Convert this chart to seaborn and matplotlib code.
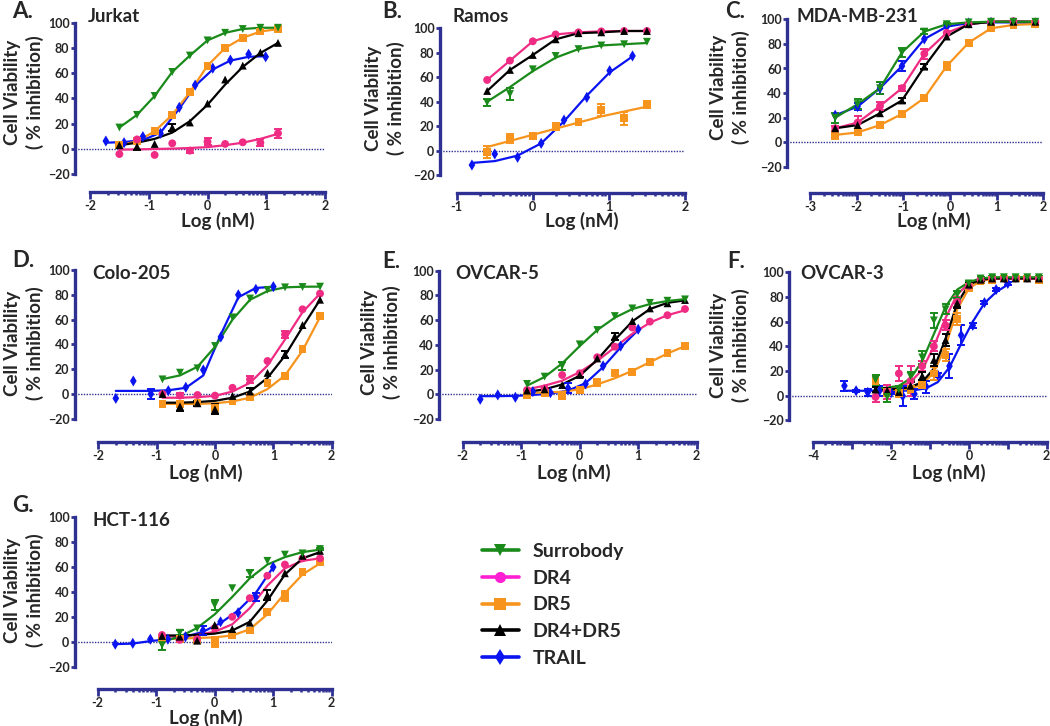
import numpy as np
import pandas as pd
import matplotlib
matplotlib.use("Agg")
import matplotlib.pyplot as plt
from matplotlib.lines import Line2D
import seaborn as sns

sns.set_style("ticks")
plt.rcParams["font.family"] = ["Lato", "DejaVu Sans"]
plt.rcParams["font.weight"] = "bold"

# ---- data (log nM, % inhibition) ----
series_names = ["Surrobody", "DR4", "DR5", "DR4+DR5", "TRAIL"]

# A. Jurkat
jurkat_x = [-1.5, -1.2, -0.9, -0.6, -0.3, 0.0, 0.3, 0.6, 0.9, 1.2]
jurkat_trail_x = [-1.73, -1.42, -1.1, -0.8, -0.48, -0.21, 0.09, 0.39, 0.7, 0.99]
jurkat_surrobody = [17, 27, 42, 61, 74, 86, 92, 95, 96, 96]
jurkat_dr4 = [-4, 7.6, -4.7, 4.5, -1.3, 5.8, 4, 5.3, 5, 12.4]
jurkat_dr4_err = [0, 0, 0, 0, 1.5, 3, 0, 0, 3, 3.5]
jurkat_dr4_fit = [-0.5, -0.3, 0, 0.3, 0.8, 1.5, 3, 5, 8, 12]
jurkat_dr5 = [3, 6, 14, 27, 45, 66, 80, 88, 93, 95]
jurkat_dr4dr5 = [3, 2, 4, 17, 21, 36, 55, 66, 76.5, 84]
jurkat_dr4dr5_err = [0, 2.5, 0, 3, 0, 0, 0, 0, 0, 0]
jurkat_dr4dr5_fit = [3, 5, 8, 13, 22, 35, 51, 65, 76, 84]
jurkat_trail = [6.3, 5, 9.8, 12.4, 33, 50.6, 64, 70.4, 75, 73]
jurkat_trail_fit = [5, 5.5, 7, 13, 32, 50, 63, 70, 73, 73.5]

# B. Ramos
ramos_x = [-0.6, -0.3, 0.0, 0.3, 0.6, 0.9, 1.2, 1.5]
ramos_trail_x = [-0.8, -0.5, -0.2, 0.11, 0.41, 0.71, 1.01, 1.31]
ramos_surrobody = [39.5, 46.3, 66.5, 77.4, 83, 86, 87, 89]
ramos_surrobody_err = [3, 5, 0, 0, 0, 0, 0, 0]
ramos_surrobody_fit = [40, 52, 65, 76, 83, 86, 87, 88]
ramos_dr4 = [57.8, 73.6, 89.4, 95, 96.7, 97.5, 97.8, 97.8]
ramos_dr5 = [-1, 10, 12, 19.6, 23.7, 33, 26.4, 38]
ramos_dr5_err = [5, 4, 0, 3, 0, 5, 5, 3]
ramos_dr5_fit = [3, 8, 13, 18, 23, 28, 32, 36]
ramos_dr4dr5 = [48.8, 66, 78.2, 91, 96, 96.7, 97.8, 97.8]
ramos_trail = [-11.7, -2.7, -5.4, 6, 25, 43.6, 65.4, 77.4]
ramos_trail_fit = [-10, -8.5, -4, 6, 24, 45, 64, 77]

# C. MDA-MB-231
mda_x = [-2.46, -1.98, -1.5, -1.03, -0.55, -0.07, 0.4, 0.88, 1.36, 1.83]
mda_surrobody = [20, 31, 44, 73, 90, 96, 97.5, 98, 98, 98]
mda_surrobody_err = [4, 4, 5, 4, 2, 1, 0, 0, 0, 0]
mda_dr4 = [11.4, 16, 29.5, 44, 72, 89, 96, 98, 98.5, 98]
mda_dr4_err = [2, 5, 3, 2, 4, 0, 0, 0, 0, 0]
mda_dr5 = [6, 8, 14, 23, 36, 62, 81, 92.7, 95.4, 96.2]
mda_dr5_err = [3, 2, 0, 0, 0, 3, 0, 0, 0, 0]
mda_dr4dr5 = [11.4, 14, 23.6, 34, 61.5, 86, 96, 98, 98, 98]
mda_dr4dr5_err = [0, 0, 0, 2, 2, 0, 0, 0, 0, 0]
mda_trail = [22, 29, 44, 62, 84, 94, 97, 97.5, 97.5, 97]
mda_trail_err = [0, 3, 5, 4, 0, 0, 0, 0, 0, 0]

# D. Colo-205
colo_x = [-0.9, -0.6, -0.3, 0.0, 0.3, 0.6, 0.9, 1.2, 1.5, 1.8]
colo_trail_x = [-1.7, -1.4, -1.1, -0.8, -0.5, -0.2, 0.1, 0.4, 0.7, 1.0]
colo_surrobody = [11.8, 17.2, 20.7, 38.7, 61.8, 77, 84, 86, 86.3, 86.6]
colo_surrobody_fit = [12, 15, 22, 38, 60, 76, 83, 86, 86.5, 86.6]
colo_dr4 = [0, -1.3, -0.8, -1.3, 5, 11.8, 26.6, 48, 68.3, 81]
colo_dr4_err = [0, 2, 0, 0, 0, 3, 0, 3, 0, 0]
colo_dr4_fit = [-3, -3, -2.5, -1.5, 2, 9, 23, 44, 66, 81]
colo_dr5 = [-8, -8, -7, -11, -6, -2.7, 9, 14.5, 36, 63]
colo_dr5_err = [0, 0, 0, 3, 0, 0, 0, 0, 0, 0]
colo_dr5_fit = [-8, -8, -8, -7.5, -6, -3, 4, 15, 35, 62]
colo_dr4dr5 = [0, -10, -7.5, -12.4, -1.6, 2, 17, 32, 55.6, 76]
colo_dr4dr5_err = [0, 4, 2, 4, 0, 3, 0, 3, 0, 0]
colo_dr4dr5_fit = [-7, -7, -6.5, -5.5, -3, 2, 13, 31, 54, 76]
colo_trail = [-3.5, 10.5, 0, 2.7, 5.4, 19.4, 46, 80, 84.4, 86.6]
colo_trail_err = [0, 0, 4, 0, 0, 0, 0, 0, 0, 0]
colo_trail_fit = [2.5, 2.5, 2.5, 3, 5, 15, 48, 78, 85.5, 86.5]

# E. OVCAR-5
ov5_x = [-0.9, -0.6, -0.3, 0.0, 0.3, 0.6, 0.9, 1.2, 1.5, 1.8]
ov5_trail_x = [-1.7, -1.4, -1.1, -0.8, -0.5, -0.2, 0.1, 0.4, 0.7, 1.0]
ov5_surrobody = [8.4, 14.3, 23, 40.4, 52, 63.3, 69.5, 74, 75.7, 76.8]
ov5_surrobody_err = [0, 0, 3, 0, 0, 0, 0, 0, 0, 0]
ov5_surrobody_fit = [7, 14, 25, 39, 52, 62, 69, 73, 75.5, 77]
ov5_dr4 = [3.5, 4.8, 15.6, 17, 30, 38.5, 54, 58.8, 64, 69]
ov5_dr4_fit = [4, 7, 11, 18, 27, 38, 49, 58, 64, 68]
ov5_dr5 = [-0.5, 1, -1.3, 3.5, 9.4, 17, 17.8, 26.4, 33.7, 39]
ov5_dr5_err = [0, 0, 0, 0, 3, 0, 0, 0, 0, 0]
ov5_dr5_fit = [1, 1.5, 2, 4, 8, 13, 19, 26, 33, 39]
ov5_dr4dr5 = [3, 4, 7.5, 15.6, 29, 47, 59.3, 69.5, 73.6, 76.3]
ov5_dr4dr5_err = [0, 0, 0, 2, 0, 3, 0, 0, 0, 0]
ov5_dr4dr5_fit = [2, 4, 8, 15, 28, 44, 59, 69, 74, 76]
ov5_trail = [-4, -0.5, -2.4, 2.2, 1.3, 4.9, 8.4, 23, 39, 52.6]
ov5_trail_err = [0, 0, 0, 0, 0, 4, 0, 0, 0, 0]
ov5_trail_fit = [-1.5, -1.5, -1.3, -0.5, 0.5, 3, 9, 22, 38, 52]

# F. OVCAR-3
ov3_x = [-2.4, -2.1, -1.8, -1.5, -1.2, -0.9, -0.6, -0.3, 0.0, 0.3, 0.6, 0.9, 1.2, 1.5, 1.8]
ov3_trail_x = [-3.2, -2.9, -2.6, -2.3, -2.0, -1.7, -1.4, -1.1, -0.8, -0.5, -0.2, 0.1, 0.4, 0.7, 1.0]
ov3_surrobody = [13, -1, 5, 16, 31, 61, 70, 82, 91, 95, 96, 96, 96, 96, 96]
ov3_surrobody_err = [4, 4, 3, 3, 5, 6, 4, 3, 2, 1, 1, 1, 1, 1, 1]
ov3_surrobody_fit = [6, 6.5, 8, 14, 28, 50, 72, 86, 92, 95, 96, 96, 96, 96, 96]
ov3_dr4 = [-1, 3, 18, 12, 24, 40, 57, 76, 89, 94, 95, 95, 95, 95, 95]
ov3_dr4_err = [4, 6, 6, 12, 4, 4, 4, 4, 2, 1, 1, 1, 1, 1, 1]
ov3_dr4_fit = [5, 5.5, 7, 11, 21, 40, 63, 82, 91, 94, 95, 95, 95, 95, 95]
ov3_dr5 = [12, 3, 2, 5, 9, 18, 33, 62, 88, 93, 94, 95, 95, 95, 94]
ov3_dr5_err = [5, 3, 3, 3, 3, 5, 5, 5, 3, 2, 1, 1, 1, 1, 1]
ov3_dr5_fit = [4, 4, 4.5, 6, 9, 19, 40, 70, 87, 93, 94.5, 95, 95, 95, 95]
ov3_dr4dr5 = [5, 4, 3, 8, 16, 29, 45, 75, 90, 94, 95, 95, 95, 95, 95]
ov3_dr4dr5_err = [2, 2, 2, 3, 3, 5, 5, 4, 2, 1, 1, 1, 1, 1, 1]
ov3_dr4dr5_fit = [5, 5, 5.5, 7, 11, 22, 46, 75, 90, 94, 95, 95, 95, 95, 95]
ov3_trail = [8, 4, 2.7, 4, 2.4, -0.3, 1.4, 7.3, 16.8, 24, 49, 57, 75.4, 86, 91]
ov3_trail_err = [4, 1, 3, 4, 1, 8, 4, 5, 2, 10, 8, 2, 1, 1, 1]
ov3_trail_fit = [4, 4, 4, 4, 4, 4, 4.5, 6, 11, 23, 42, 60, 75, 84, 90]

# G. HCT-116
hct_x = [-0.9, -0.6, -0.3, 0.0, 0.3, 0.6, 0.9, 1.2, 1.5, 1.8]
hct_trail_x = [-1.7, -1.4, -1.1, -0.8, -0.5, -0.2, 0.1, 0.4, 0.7, 1.0]
hct_surrobody = [-2.7, 7.2, 10.7, 29.5, 43, 55, 65, 70, 71, 74.5]
hct_surrobody_err = [4, 2, 0, 4, 0, 3, 0, 0, 0, 1]
hct_surrobody_fit = [0, 4, 11, 22, 36, 51, 62, 68, 72, 74]
hct_dr4 = [5.4, 1.5, 2, 11, 20, 35, 53, 62, 67, 67]
hct_dr4_fit = [4, 4.5, 5.5, 8, 14, 27, 45, 59, 65, 67]
hct_dr5 = [3, 2, 1.3, 0, 5, 9, 24, 37, 56, 64]
hct_dr5_err = [0, 0, 0, 4, 0, 0, 0, 4, 0, 0]
hct_dr5_fit = [2, 2.5, 3, 3.5, 5, 10, 22, 39, 54, 63]
hct_dr4dr5 = [4.6, 4, 0.8, 13.4, 10.2, 15.3, 37.5, 55, 69, 73]
hct_dr4dr5_err = [0, 0, 2, 0, 0, 0, 4, 0, 0, 0]
hct_dr4dr5_fit = [5, 5, 5.5, 6.5, 9, 16, 33, 54, 67, 72]
hct_trail = [-2, -1.3, 2, 2, 4, 9, 16, 23.3, 36, 60]
hct_trail_err = [0, 0, 0, 0, 0, 4, 0, 0, 3, 0]
hct_trail_fit = [-2, -1.5, 0.5, 2, 4, 8, 15, 25, 39, 60]

# ---- styling ----
navy = "#2e3192"
colors = {"Surrobody": "#1a8a1a", "DR4": "#ef2b84", "DR5": "#f7941d",
          "DR4+DR5": "#000000", "TRAIL": "#0a14f0"}
legend_colors = dict(colors, DR4="#ff1fd2")
markers = {"Surrobody": "v", "DR4": "o", "DR5": "s", "DR4+DR5": "^", "TRAIL": "d"}
draw_order = ["TRAIL", "DR5", "DR4", "DR4+DR5", "Surrobody"]

W, H = 1050, 726
fig = plt.figure(figsize=(W / 100, H / 100), dpi=100)


def fx(px):
    return px / W


def fy(py):
    return 1 - py / H


def draw_panel(ax, x_ab, x_trail, series):
    rows = []
    for name in draw_order:
        y, err, fit = series[name]
        xs = x_trail if name == "TRAIL" else x_ab
        err = err if err is not None else [0] * len(y)
        fit = fit if fit is not None else y
        for xv, yv, ev, fv in zip(xs, y, err, fit):
            rows.append({"series": name, "logc": xv, "resp": yv, "err": ev, "fit": fv})
    df = pd.DataFrame(rows)

    sns.lineplot(data=df, x="logc", y="fit", hue="series", hue_order=draw_order,
                 palette=colors, estimator=None, sort=True, linewidth=1.6,
                 legend=False, ax=ax, clip_on=False)
    for name in draw_order:
        d = df[(df.series == name) & (df.err > 0)]
        if len(d):
            ax.errorbar(d.logc, d.resp, yerr=d.err, fmt="none", ecolor=colors[name],
                        elinewidth=1.4, capsize=3, capthick=1.4, zorder=2.5, clip_on=False)
    sns.scatterplot(data=df, x="logc", y="resp", hue="series", style="series",
                    hue_order=draw_order, style_order=draw_order, palette=colors,
                    markers=markers, s=32, linewidth=0, legend=False, ax=ax,
                    zorder=3, clip_on=False)


# letter, title, x grid, trail grid, series, layout in pixels
panels = [
    ("A.", "Jurkat", jurkat_x, jurkat_trail_x, {
        "Surrobody": (jurkat_surrobody, None, None),
        "DR4": (jurkat_dr4, jurkat_dr4_err, jurkat_dr4_fit),
        "DR5": (jurkat_dr5, None, None),
        "DR4+DR5": (jurkat_dr4dr5, jurkat_dr4dr5_err, jurkat_dr4dr5_fit),
        "TRAIL": (jurkat_trail, None, jurkat_trail_fit)},
     dict(left=75, t0=-2, t0px=90, t1=2, t1px=325, y100=22.7, y0=149, spine=191.7, step=1,
          letter=(12, 12), title=(88, 16), ylab=(24, 92), xlab=(218, 221))),
    ("B.", "Ramos", ramos_x, ramos_trail_x, {
        "Surrobody": (ramos_surrobody, ramos_surrobody_err, ramos_surrobody_fit),
        "DR4": (ramos_dr4, None, None),
        "DR5": (ramos_dr5, ramos_dr5_err, ramos_dr5_fit),
        "DR4+DR5": (ramos_dr4dr5, None, None),
        "TRAIL": (ramos_trail, None, ramos_trail_fit)},
     dict(left=440, t0=-1, t0px=456.7, t1=2, t1px=685, y100=28.3, y0=150.7, spine=192.7, step=1,
          letter=(382, 12), title=(452, 16), ylab=(385, 98), xlab=(582, 221))),
    ("C.", "MDA-MB-231", mda_x, mda_x, {
        "Surrobody": (mda_surrobody, mda_surrobody_err, None),
        "DR4": (mda_dr4, mda_dr4_err, None),
        "DR5": (mda_dr5, mda_dr5_err, None),
        "DR4+DR5": (mda_dr4dr5, mda_dr4dr5_err, None),
        "TRAIL": (mda_trail, mda_trail_err, None)},
     dict(left=787.3, t0=-3, t0px=810, t1=2, t1px=1043.3, y100=19.3, y0=142.3, spine=192.7, step=1,
          letter=(725, 12), title=(797, 16), ylab=(730, 87), xlab=(934, 221))),
    ("D.", "Colo-205", colo_x, colo_trail_x, {
        "Surrobody": (colo_surrobody, None, colo_surrobody_fit),
        "DR4": (colo_dr4, colo_dr4_err, colo_dr4_fit),
        "DR5": (colo_dr5, colo_dr5_err, colo_dr5_fit),
        "DR4+DR5": (colo_dr4dr5, colo_dr4dr5_err, colo_dr4dr5_fit),
        "TRAIL": (colo_trail, colo_trail_err, colo_trail_fit)},
     dict(left=75, t0=-2, t0px=98.3, t1=2, t1px=331.7, y100=270, y0=394, spine=441.7, step=1,
          letter=(12, 260), title=(92, 274), ylab=(24, 343), xlab=(206, 473))),
    ("E.", "OVCAR-5", ov5_x, ov5_trail_x, {
        "Surrobody": (ov5_surrobody, ov5_surrobody_err, ov5_surrobody_fit),
        "DR4": (ov5_dr4, None, ov5_dr4_fit),
        "DR5": (ov5_dr5, ov5_dr5_err, ov5_dr5_fit),
        "DR4+DR5": (ov5_dr4dr5, ov5_dr4dr5_err, ov5_dr4dr5_fit),
        "TRAIL": (ov5_trail, ov5_trail_err, ov5_trail_fit)},
     dict(left=439.3, t0=-2, t0px=462.7, t1=2, t1px=696.7, y100=270.7, y0=394.3, spine=441.7, step=1,
          letter=(382, 261), title=(455, 274), ylab=(381, 342), xlab=(574, 473))),
    ("F.", "OVCAR-3", ov3_x, ov3_trail_x, {
        "Surrobody": (ov3_surrobody, ov3_surrobody_err, ov3_surrobody_fit),
        "DR4": (ov3_dr4, ov3_dr4_err, ov3_dr4_fit),
        "DR5": (ov3_dr5, ov3_dr5_err, ov3_dr5_fit),
        "DR4+DR5": (ov3_dr4dr5, ov3_dr4dr5_err, ov3_dr4dr5_fit),
        "TRAIL": (ov3_trail, ov3_trail_err, ov3_trail_fit)},
     dict(left=789.3, t0=-4, t0px=813.3, t1=2, t1px=1046.7, y100=272.3, y0=395.7, spine=441.7, step=2,
          letter=(727, 261), title=(800, 274), ylab=(730, 345), xlab=(949, 473))),
    ("G.", "HCT-116", hct_x, hct_trail_x, {
        "Surrobody": (hct_surrobody, hct_surrobody_err, hct_surrobody_fit),
        "DR4": (hct_dr4, None, hct_dr4_fit),
        "DR5": (hct_dr5, hct_dr5_err, hct_dr5_fit),
        "DR4+DR5": (hct_dr4dr5, hct_dr4dr5_err, hct_dr4dr5_fit),
        "TRAIL": (hct_trail, hct_trail_err, hct_trail_fit)},
     dict(left=75, t0=-2, t0px=97.7, t1=2, t1px=331.7, y100=517.3, y0=641.7, spine=688.7, step=1,
          letter=(12, 505), title=(92, 521), ylab=(24, 590), xlab=(206, 718))),
]

for letter, title, x_ab, x_trail, series, g in panels:
    xscale = (g["t1px"] - g["t0px"]) / (g["t1"] - g["t0"])
    yscale = (g["y0"] - g["y100"]) / 100.0
    ax = fig.add_axes([fx(g["left"]), fy(g["spine"]),
                       (g["t1px"] - g["left"]) / W, (g["spine"] - g["y100"]) / H])
    draw_panel(ax, x_ab, x_trail, series)

    ax.set_xlim(g["t0"] - (g["t0px"] - g["left"]) / xscale, g["t1"])
    ax.set_ylim(-(g["spine"] - g["y0"]) / yscale, 100)
    ax.axhline(0, color=navy, lw=1.0, ls=(0, (1, 1)), zorder=1)

    for s in ["top", "right"]:
        ax.spines[s].set_visible(False)
    for s in ["left", "bottom"]:
        ax.spines[s].set_color(navy)
        ax.spines[s].set_linewidth(2.4)
    ax.spines["left"].set_bounds(-20, 100)
    ax.spines["bottom"].set_bounds(g["t0"], g["t1"])

    ax.set_yticks(range(-20, 101, 20))
    majors = list(range(g["t0"], g["t1"] + 1))
    ax.set_xticks(majors)
    ax.set_xticklabels([str(m) if (m - g["t0"]) % g["step"] == 0 else "" for m in majors])
    minors = [d + np.log10(k) for d in range(g["t0"], g["t1"]) for k in range(2, 10)]
    ax.set_xticks(minors, minor=True)
    ax.tick_params(axis="y", length=3, width=2, color=navy, pad=1, labelsize=9)
    ax.tick_params(axis="x", which="major", length=5, width=2, color=navy, pad=1, labelsize=9)
    ax.tick_params(axis="x", which="minor", length=2.5, width=1.8, color=navy)
    for lab in ax.get_xticklabels() + ax.get_yticklabels():
        lab.set_fontweight("bold")
    ax.set_xlabel("")
    ax.set_ylabel("")
    ax.patch.set_alpha(0)

    fig.text(fx(g["letter"][0]), fy(g["letter"][1]), letter, fontsize=16,
             fontweight="bold", ha="left", va="center")
    fig.text(fx(g["title"][0]), fy(g["title"][1]), title, fontsize=13.5,
             fontweight="bold", ha="left", va="center")
    fig.text(fx(g["ylab"][0]), fy(g["ylab"][1]), "Cell Viability\n( % inhibition)",
             fontsize=13.5, fontweight="bold", rotation=90, ha="center", va="center",
             multialignment="center", linespacing=1.3)
    fig.text(fx(g["xlab"][0]), fy(g["xlab"][1]), "Log (nM)", fontsize=13.5,
             fontweight="bold", ha="center", va="center")

handles = [Line2D([0], [0], color=legend_colors[n], lw=2.6, marker=markers[n],
                  markersize=8, markeredgewidth=0) for n in series_names]
fig.legend(handles, series_names, loc="upper left", bbox_to_anchor=(fx(482), fy(543)),
           frameon=False, borderpad=0, borderaxespad=0, handlelength=1.9,
           handletextpad=0.7, labelspacing=0.5, prop={"size": 14, "weight": "bold"})

fig.savefig("out.png", dpi=100)
